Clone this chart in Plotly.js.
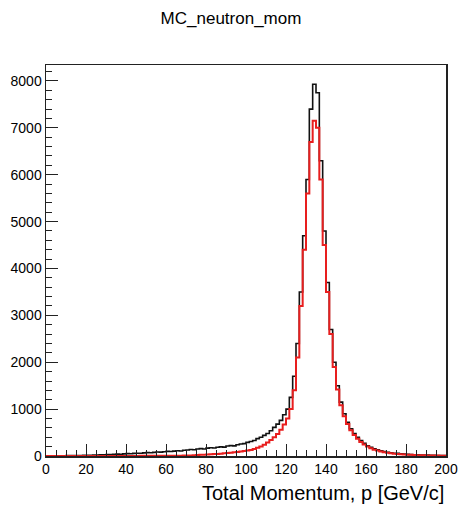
<!DOCTYPE html>
<html>
<head>
<meta charset="utf-8">
<script src="https://cdn.plot.ly/plotly-3.0.1.min.js"></script>
<style>html,body{margin:0;padding:0;background:#fff;}#chart{width:462px;height:505px;}</style>
</head>
<body>
<div id="chart"></div>
<script>
// Histogram: 120 bins from 0 to 200 GeV/c
const xMin = 0;
const xMax = 200;
const nBins = 120;

// Black histogram (all neutrons)
const countsBlack = [
  2, 3, 4, 5, 5, 6, 7, 8, 9, 10, 12, 13,
  15, 17, 19, 21, 24, 27, 30, 33, 36,
  40, 38, 45, 50, 48, 55, 60, 58, 66, 72,
  70, 78, 85, 82, 90, 98, 95, 105, 112, 108,
  122, 128, 140, 132, 150, 158, 150, 168, 175, 170,
  188, 195, 190, 212, 222, 215, 240, 255, 265, 290,
  310, 330, 370, 400, 440, 480, 540, 610, 680, 760, 880,
  1000, 1250, 1700, 2400, 3500, 4700, 5900, 7400, 7930, 7750,
  6300, 4800, 3700, 2700, 2000, 1500, 1150, 900, 720, 580,
  480, 400, 330, 270, 220, 185, 155, 130, 110, 95,
  80, 70, 60, 55, 45, 40, 35, 30, 28, 25,
  22, 20, 18, 15, 14, 12, 10, 10
];

// Red histogram (matched neutrons)
const countsRed = [
  0, 0, 0, 0, 0, 0, 0, 0, 0, 0, 0, 0,
  0, 0, 0, 0, 0, 0, 1, 1, 1,
  1, 1, 1, 2, 2, 2, 2, 3, 3, 3,
  3, 4, 4, 4, 4, 5, 5, 5, 6, 6,
  8, 10, 13, 16, 20, 24, 28, 32, 36, 40,
  44, 50, 56, 62, 70, 78, 86, 95, 105, 118,
  130, 150, 175, 205, 240, 290, 340, 400, 470, 560, 670,
  800, 1000, 1400, 2100, 3200, 4400, 5600, 6700, 7150, 7000,
  5900, 4500, 3500, 2600, 1900, 1420, 1080, 850, 680, 550,
  450, 370, 300, 245, 200, 165, 135, 115, 95, 80,
  68, 58, 50, 44, 38, 33, 28, 24, 21, 18,
  16, 14, 12, 10, 9, 8, 7, 6
];

const xTickVals = [0, 20, 40, 60, 80, 100, 120, 140, 160, 180, 200];
const yTickVals = [0, 1000, 2000, 3000, 4000, 5000, 6000, 7000, 8000];

function stepTrace(counts, color, width) {
  const bw = (xMax - xMin) / nBins;
  const xs = [], ys = [];
  xs.push(xMin); ys.push(0);
  for (let i = 0; i < counts.length; i++) {
    xs.push(xMin + i * bw); ys.push(counts[i]);
  }
  xs.push(xMax); ys.push(counts[counts.length - 1]);
  return {
    type: 'scatter', mode: 'lines', x: xs, y: ys,
    line: {shape: 'hv', color: color, width: width},
    hoverinfo: 'skip', showlegend: false, cliponaxis: true
  };
}

const data = [
  stepTrace(countsBlack, '#111111', 1.6),
  stepTrace(countsRed, 'rgb(232,30,30)', 2)
];

const font = 'Liberation Sans, Arial, Helvetica, sans-serif';

const layout = {
  width: 462, height: 505,
  margin: {l: 46, r: 16, t: 65, b: 49, pad: 0},
  paper_bgcolor: '#fff', plot_bgcolor: '#fff',
  showlegend: false,
  title: {text: 'MC_neutron_mom', x: 0.5, xanchor: 'center', y: 0.965, yanchor: 'middle',
          font: {family: font, size: 17, color: '#000'}},
  xaxis: {
    range: [xMin, xMax], tickvals: xTickVals, ticktext: xTickVals.map(String),
    ticks: 'inside', ticklen: 12, tickwidth: 1, tickcolor: '#222',
    minor: {dtick: 5, tick0: 0, ticks: 'inside', ticklen: 6, tickcolor: '#222', tickwidth: 1, showgrid: false},
    showline: true, linecolor: '#222', linewidth: 1.5, mirror: true,
    showgrid: false, zeroline: false,
    tickfont: {family: font, size: 14, color: '#000'}
  },
  yaxis: {
    range: [0, 8341], tickvals: yTickVals, ticktext: yTickVals.map(String),
    ticks: 'inside', ticklen: 12, tickwidth: 1, tickcolor: '#222',
    minor: {dtick: 200, tick0: 0, ticks: 'inside', ticklen: 6, tickcolor: '#222', tickwidth: 1, showgrid: false},
    showline: true, linecolor: '#222', linewidth: 1.5, mirror: true,
    showgrid: false, zeroline: false,
    tickfont: {family: font, size: 14, color: '#000'}
  },
  annotations: [{
    text: 'Total Momentum, p [GeV/c]', xref: 'paper', yref: 'paper',
    x: 1, xanchor: 'right', y: -0.095, yanchor: 'middle', showarrow: false,
    font: {family: font, size: 20, color: '#000'}
  }]
};

Plotly.newPlot('chart', data, layout, {staticPlot: true, displayModeBar: false});
</script>
</body>
</html>
